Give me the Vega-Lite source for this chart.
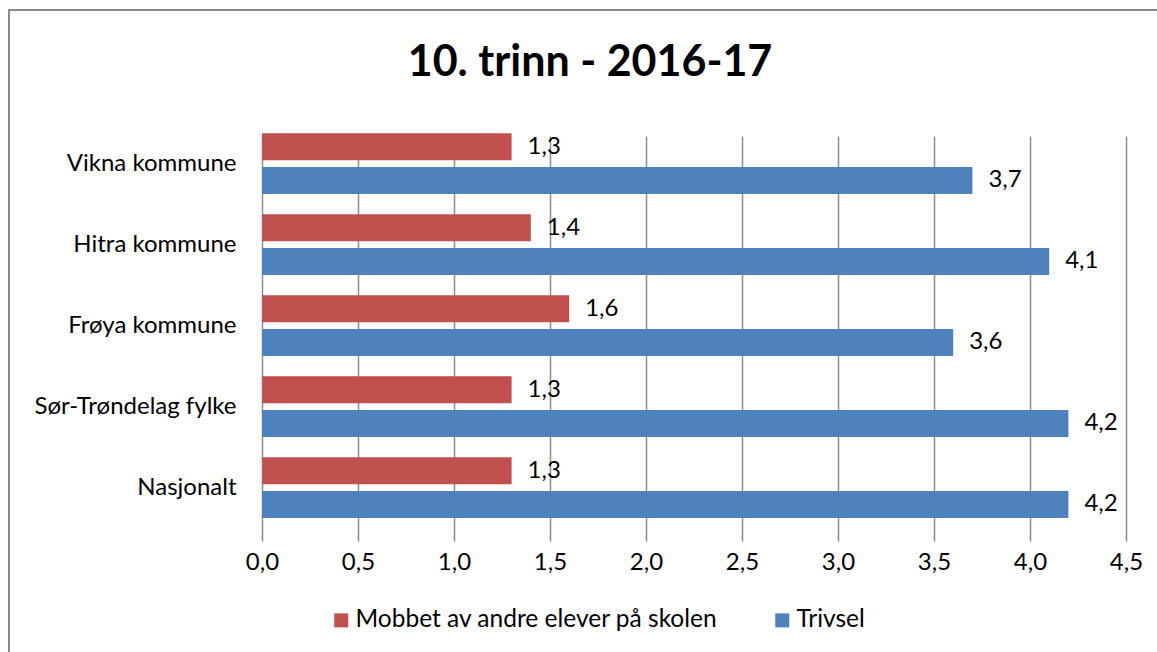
{
  "$schema": "https://vega.github.io/schema/vega-lite/v6.json",
  "width": 1150,
  "height": 644,
  "autosize": {"type": "none"},
  "padding": {"left": 9, "top": 10, "right": -2, "bottom": -2},
  "background": "white",
  "config": {
    "locale": {"number": {"decimal": ",", "thousands": " ", "grouping": [3], "currency": ["", " kr"]}},
    "view": {"stroke": "#888888", "strokeWidth": 2},
    "font": "Lato"
  },
  "title": {
    "text": "10. trinn - 2016-17",
    "font": "Lato",
    "fontSize": 43,
    "fontWeight": "bold",
    "color": "black",
    "anchor": "middle",
    "frame": "group",
    "baseline": "alphabetic",
    "offset": -109,
    "dx": 6
  },
  "data": {
    "values": [
      {"region": "Vikna kommune", "series": "Mobbet av andre elever på skolen", "value": 1.3},
      {"region": "Vikna kommune", "series": "Trivsel", "value": 3.7},
      {"region": "Hitra kommune", "series": "Mobbet av andre elever på skolen", "value": 1.4},
      {"region": "Hitra kommune", "series": "Trivsel", "value": 4.1},
      {"region": "Frøya kommune", "series": "Mobbet av andre elever på skolen", "value": 1.6},
      {"region": "Frøya kommune", "series": "Trivsel", "value": 3.6},
      {"region": "Sør-Trøndelag fylke", "series": "Mobbet av andre elever på skolen", "value": 1.3},
      {"region": "Sør-Trøndelag fylke", "series": "Trivsel", "value": 4.2},
      {"region": "Nasjonalt", "series": "Mobbet av andre elever på skolen", "value": 1.3},
      {"region": "Nasjonalt", "series": "Trivsel", "value": 4.2}
    ]
  },
  "encoding": {
    "y": {
      "field": "region",
      "type": "nominal",
      "sort": ["Vikna kommune", "Hitra kommune", "Frøya kommune", "Sør-Trøndelag fylke", "Nasjonalt"],
      "scale": {"range": [113, 518], "paddingInner": 0.25, "paddingOuter": 0.125},
      "axis": {
        "title": null,
        "offset": -253,
        "domain": false,
        "ticks": false,
        "grid": false,
        "labelPadding": 26,
        "labelFontSize": 24,
        "labelLimit": 300,
        "labelColor": "black",
        "labelFont": "Lato"
      }
    },
    "yOffset": {
      "field": "series",
      "type": "nominal",
      "sort": ["Mobbet av andre elever på skolen", "Trivsel"],
      "scale": {"paddingInner": 0.2, "paddingOuter": 0}
    },
    "x": {
      "field": "value",
      "type": "quantitative",
      "scale": {"domain": [0, 4.5], "range": [253, 1117], "nice": false, "zero": true},
      "axis": {
        "title": null,
        "values": [0, 0.5, 1, 1.5, 2, 2.5, 3, 3.5, 4, 4.5],
        "format": ".1f",
        "offset": -126,
        "domain": false,
        "ticks": false,
        "labelFlush": false,
        "labelPadding": 22,
        "labelFontSize": 24,
        "labelColor": "black",
        "labelFont": "Lato",
        "grid": true,
        "gridColor": "#8c8c8c",
        "gridWidth": 1.5
      }
    }
  },
  "layer": [
    {
      "mark": {"type": "bar"},
      "encoding": {
        "color": {
          "field": "series",
          "type": "nominal",
          "sort": ["Mobbet av andre elever på skolen", "Trivsel"],
          "scale": {"range": ["#C0504D", "#4F81BD"]},
          "legend": {
            "orient": "none",
            "legendX": 320,
            "legendY": 598,
            "direction": "horizontal",
            "title": null,
            "symbolType": "square",
            "symbolSize": 196,
            "symbolStrokeWidth": 0,
            "symbolOpacity": 1,
            "labelFontSize": 24.5,
            "labelFont": "Lato",
            "labelColor": "black",
            "labelOffset": 2,
            "columnPadding": 52,
            "labelLimit": 500
          }
        }
      }
    },
    {
      "mark": {"type": "text", "align": "left", "baseline": "middle", "dx": 16, "fontSize": 24, "font": "Lato", "color": "black"},
      "encoding": {
        "text": {"field": "value", "type": "quantitative", "format": ".1f"}
      }
    }
  ]
}
